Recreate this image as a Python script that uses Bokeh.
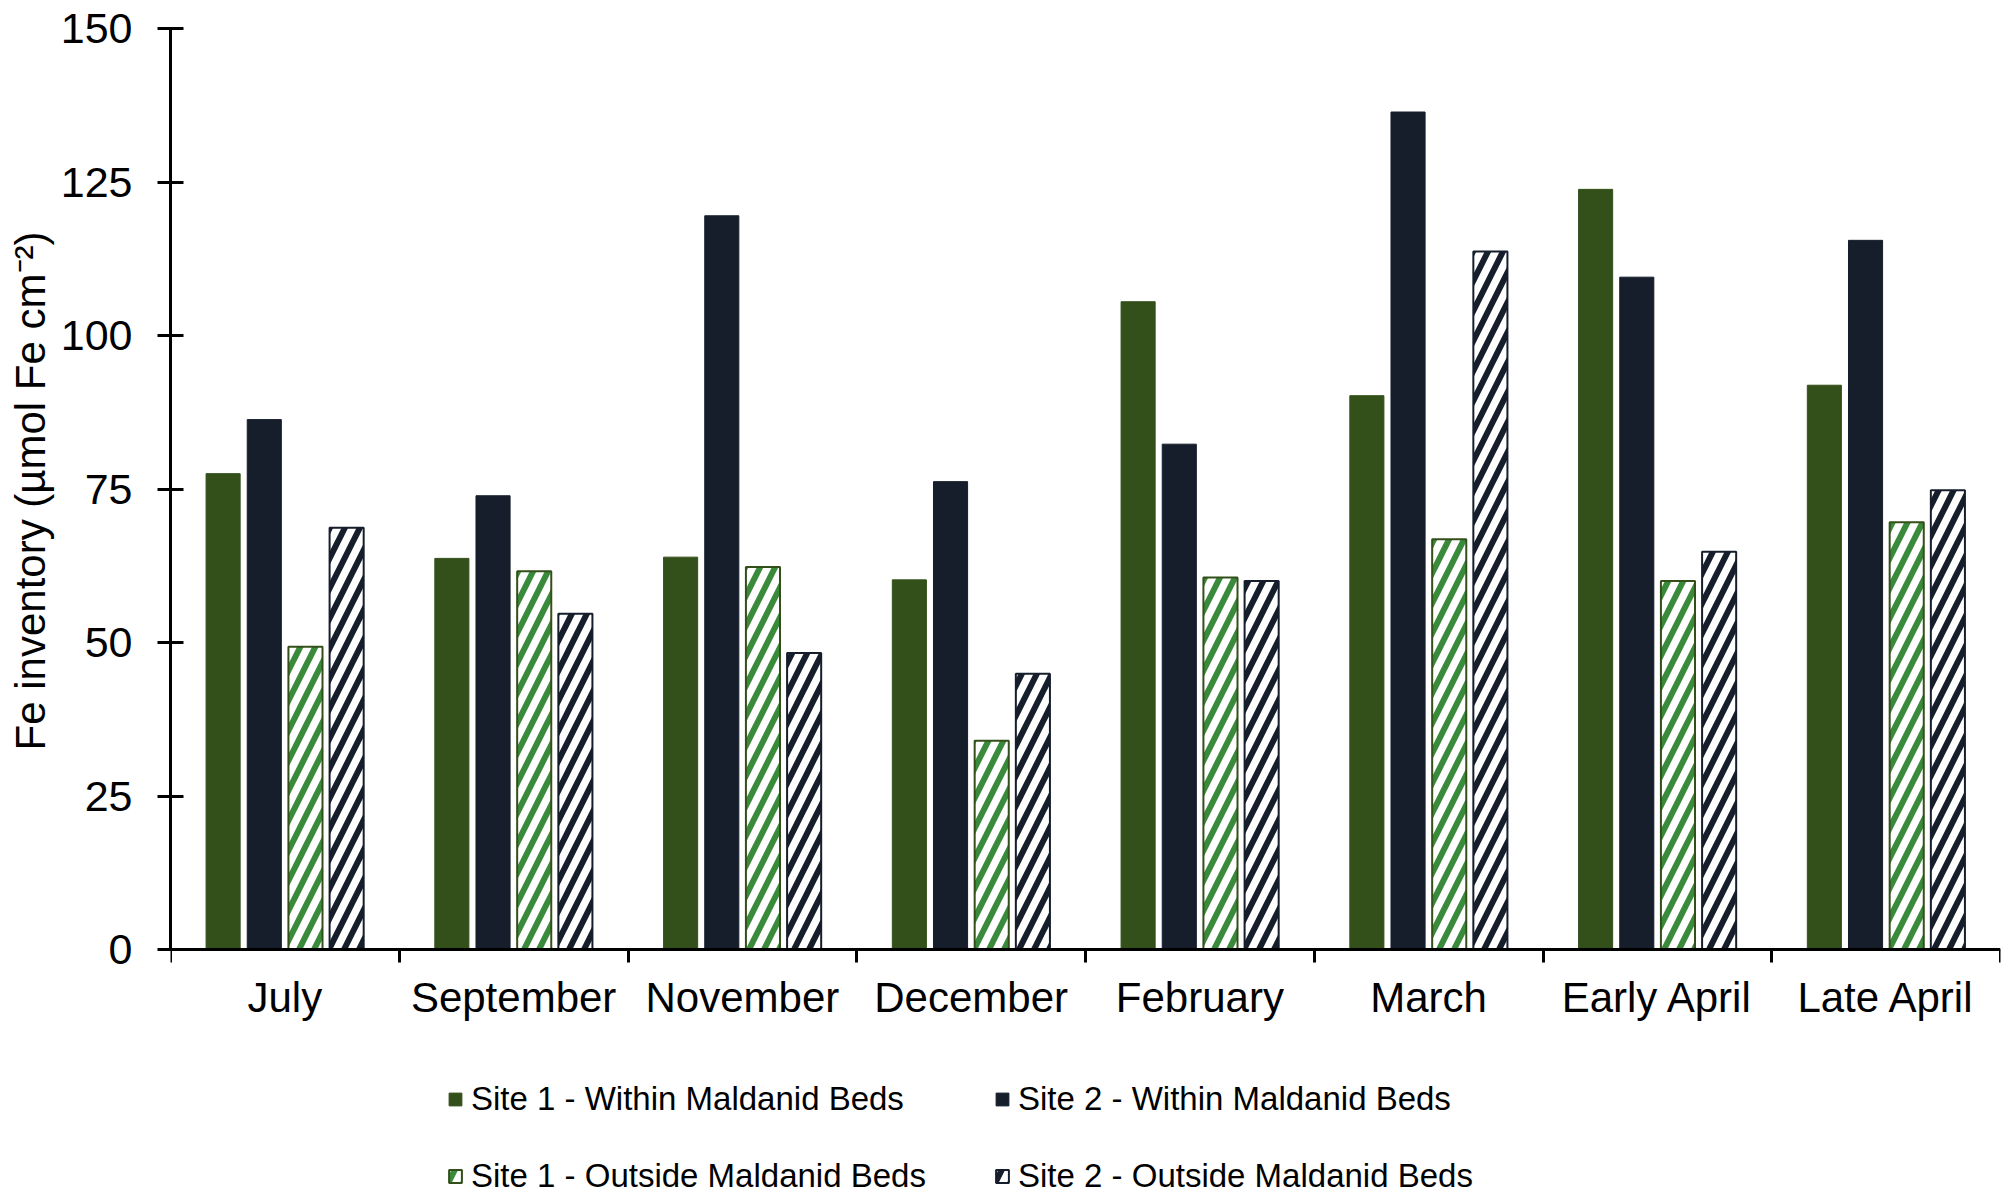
from bokeh.plotting import figure
from bokeh.models import ColumnDataSource, Range1d, FixedTicker, Legend, LegendItem, Title
from bokeh.transform import dodge
from bokeh.embed import file_html
from bokeh.resources import INLINE

months = ["July", "September", "November", "December", "February", "March", "Early April", "Late April"]
site1_within = [77.5, 63.7, 63.9, 60.2, 105.5, 90.2, 123.8, 91.9]
site2_within = [86.3, 73.9, 119.5, 76.2, 82.3, 136.4, 109.5, 115.5]
site1_outside = [49.3, 61.6, 62.3, 34.0, 60.6, 66.8, 60.0, 69.6]
site2_outside = [68.7, 54.7, 48.3, 44.9, 60.0, 113.7, 64.8, 74.8]
series_labels = ["Site 1 - Within Maldanid Beds", "Site 2 - Within Maldanid Beds",
                 "Site 1 - Outside Maldanid Beds", "Site 2 - Outside Maldanid Beds"]
y_ticks = [0, 25, 50, 75, 100, 125, 150]
y_label = "Fe inventory (µmol Fe cm⁻²)"

FONT = "Liberation Sans"
GREEN = "#34501a"
NAVY = "#161e2c"
HGREEN = "#3a8a3c"

# layout (pixels): frame spans the page from y=28 to y=1200; value 0 sits at y=949
TOP_PX, ZERO_PX, BOTTOM_PX = 28, 949, 1200
Y_MAX = 150
y_min = -Y_MAX * (BOTTOM_PX - ZERO_PX) / (ZERO_PX - TOP_PX)

n = len(months)
centers = [i + 0.5 for i in range(n)]
bounds = list(range(n + 1))

src = ColumnDataSource(dict(x=centers, s1w=site1_within, s2w=site2_within,
                            s1o=site1_outside, s2o=site2_outside))

p = figure(width=2008, height=BOTTOM_PX, output_backend="svg", toolbar_location=None,
           x_range=Range1d(0, n), y_range=Range1d(y_min, Y_MAX),
           min_border_left=170, min_border_right=8, min_border_top=TOP_PX, min_border_bottom=0)
p.outline_line_color = None
p.xgrid.visible = False
p.ygrid.visible = False
p.background_fill_color = "white"
p.border_fill_color = "white"

W = 0.149
r1 = p.vbar(x=dodge("x", -0.27), top="s1w", width=W, source=src,
            fill_color=GREEN, line_color=GREEN, line_width=1)
r2 = p.vbar(x=dodge("x", -0.09), top="s2w", width=W, source=src,
            fill_color=NAVY, line_color=NAVY, line_width=1)
r3 = p.vbar(x=dodge("x", 0.09), top="s1o", width=W, source=src,
            fill_color="white", line_color=GREEN, line_width=2,
            hatch_pattern="/", hatch_color=HGREEN, hatch_scale=30, hatch_weight=6)
r4 = p.vbar(x=dodge("x", 0.27), top="s2o", width=W, source=src,
            fill_color="white", line_color=NAVY, line_width=2,
            hatch_pattern="/", hatch_color=NAVY, hatch_scale=30, hatch_weight=6)

# y axis
ya = p.yaxis[0]
ya.ticker = FixedTicker(ticks=y_ticks)
ya.bounds = (0, Y_MAX)
ya.axis_line_width = 3
ya.axis_line_color = "black"
ya.major_tick_in = 13
ya.major_tick_out = 13
ya.major_tick_line_width = 3
ya.major_tick_line_color = "black"
ya.minor_tick_line_color = None
ya.major_label_standoff = 25
ya.major_label_text_font = FONT
ya.major_label_text_font_size = "43px"
ya.major_label_text_color = "black"

# y axis title, aligned with the 0..150 part of the axis
p.add_layout(Title(text=y_label, align="right", offset=203, standoff=8,
                   text_font=FONT, text_font_size="42px", text_font_style="normal",
                   text_color="black"), "left")

# x axis, drawn at value 0
xa = p.xaxis[0]
xa.fixed_location = 0
xa.ticker = FixedTicker(ticks=centers, minor_ticks=bounds)
xa.major_label_overrides = {c: m for c, m in zip(centers, months)}
xa.axis_line_width = 3
xa.axis_line_color = "black"
xa.major_tick_in = 0
xa.major_tick_out = 0
xa.minor_tick_in = 0
xa.minor_tick_out = 13
xa.minor_tick_line_width = 3
xa.minor_tick_line_color = "black"
xa.major_label_standoff = 11
xa.major_label_text_font = FONT
xa.major_label_text_font_size = "42px"
xa.major_label_text_color = "black"

legend = Legend(
    items=[LegendItem(label=lab, renderers=[r]) for lab, r in zip(series_labels, [r1, r2, r3, r4])],
    location=(277, 4), orientation="horizontal", ncols=2,
    glyph_width=16, glyph_height=16, label_standoff=8, label_width=486, label_height=40,
    spacing=37, padding=0, margin=0,
    label_text_font=FONT, label_text_font_size="33px", label_text_color="black",
    border_line_color=None, background_fill_alpha=0,
)
p.add_layout(legend, "center")

open("out.html", "w").write(file_html(p, INLINE))
